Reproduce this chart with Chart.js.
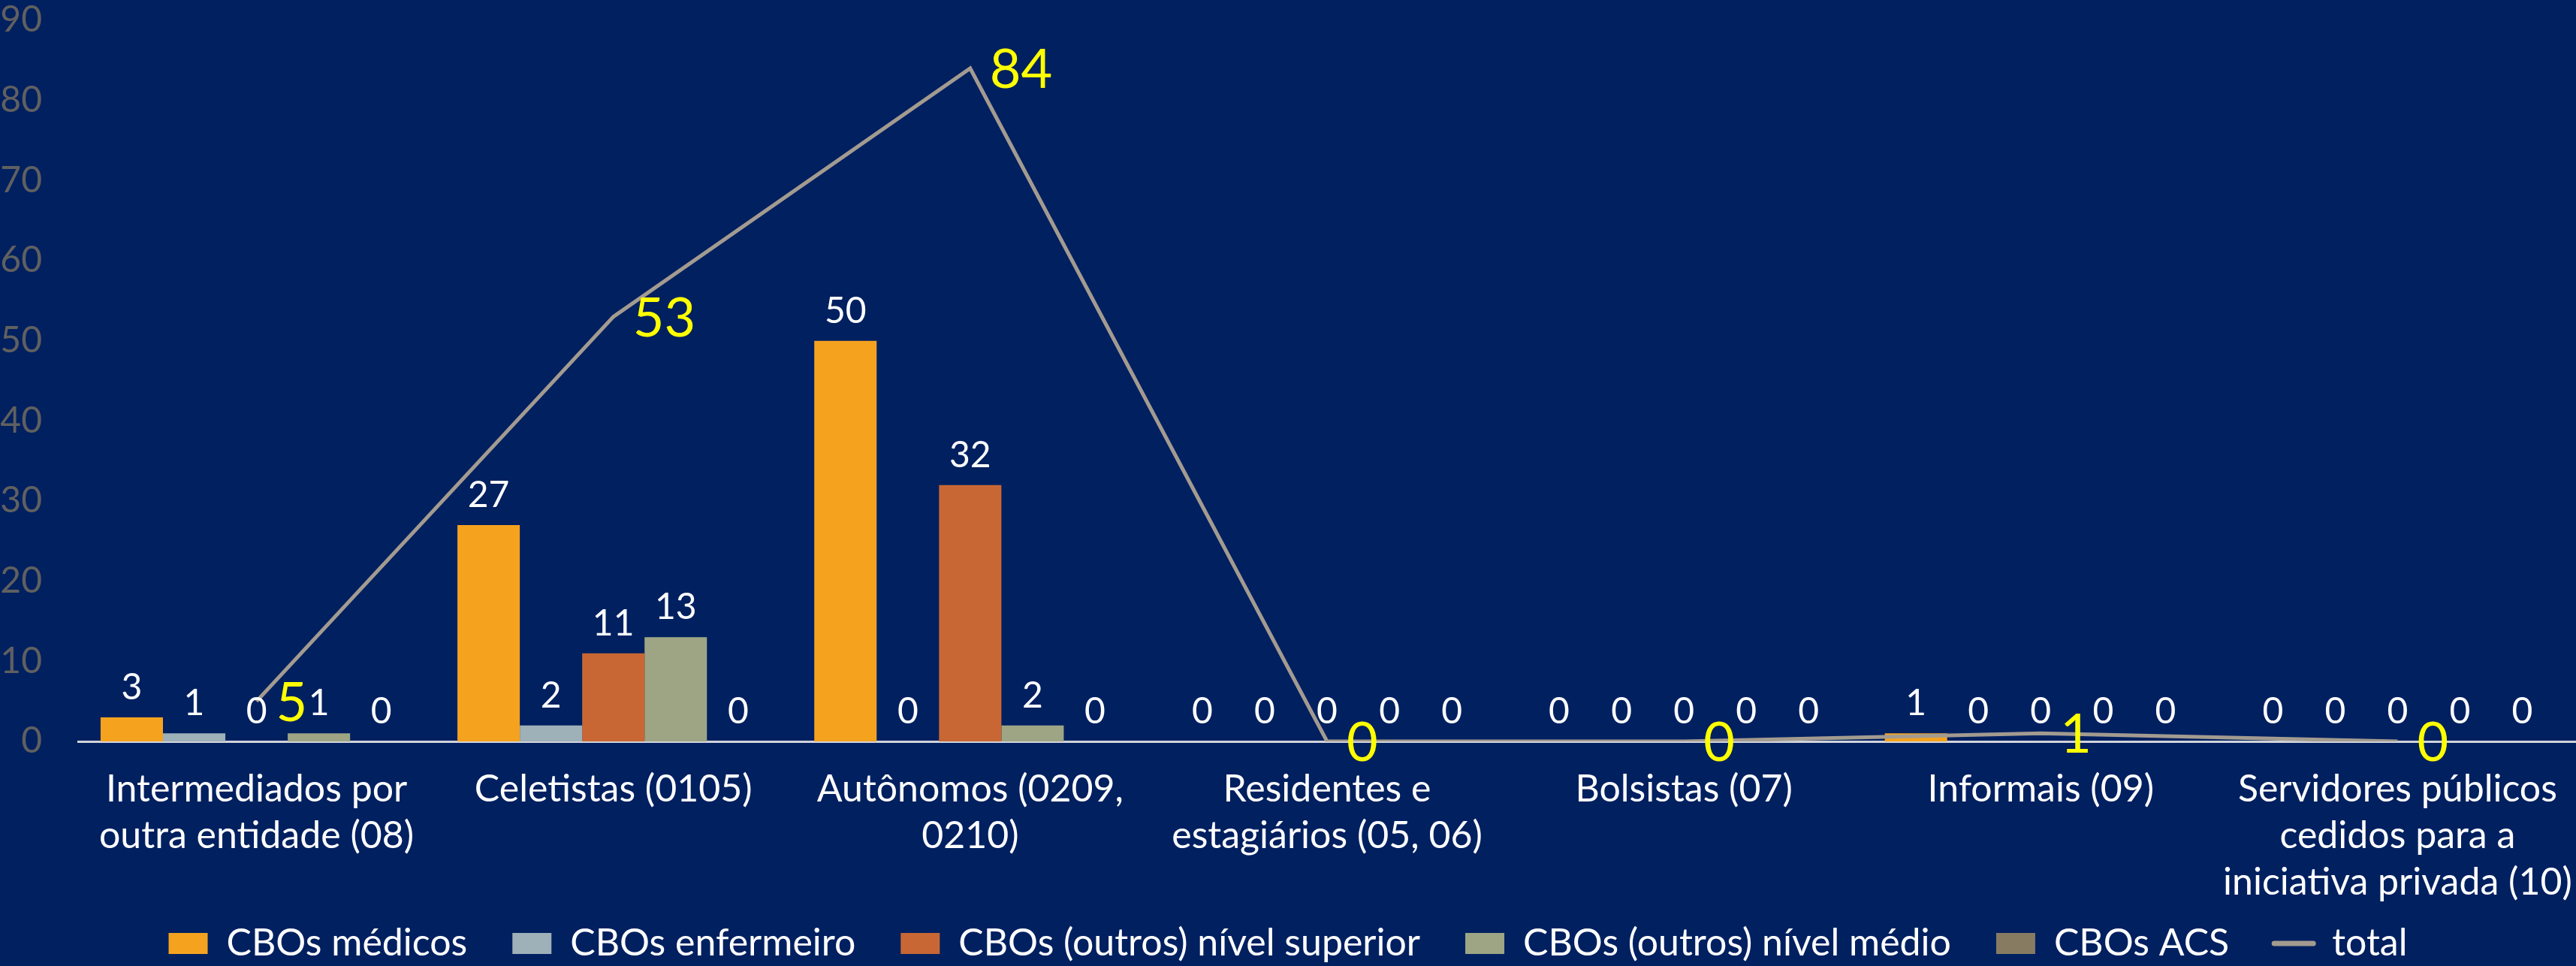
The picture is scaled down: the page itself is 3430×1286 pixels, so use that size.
<!DOCTYPE html>
<html>
<head>
<meta charset="utf-8">
<script src="https://cdn.jsdelivr.net/npm/chart.js@4.4.1/dist/chart.umd.min.js"></script>
<style>
  html, body { margin: 0; padding: 0; background: #002060; overflow: hidden; }
  #wrap { width: 3430px; height: 1286px; position: relative; }
</style>
</head>
<body>
<div id="wrap"><canvas id="c"></canvas></div>
<script>
// ---- data ----
const categories = [
  ["Intermediados por", "outra entidade (08)"],
  "Celetistas (0105)",
  ["Autônomos (0209,", "0210)"],
  ["Residentes e", "estagiários (05, 06)"],
  "Bolsistas (07)",
  "Informais (09)",
  ["Servidores públicos", "cedidos para a", "iniciativa privada (10)"]
];
const seriesNames = ["CBOs médicos", "CBOs enfermeiro", "CBOs (outros) nível superior", "CBOs (outros) nível médio", "CBOs ACS", "total"];
const medicos        = [3, 27, 50, 0, 0, 1, 0];
const enfermeiro     = [1, 2, 0, 0, 0, 0, 0];
const outrosSuperior = [0, 11, 32, 0, 0, 0, 0];
const outrosMedio    = [1, 13, 2, 0, 0, 0, 0];
const acs            = [0, 0, 0, 0, 0, 0, 0];
const total          = [5, 53, 84, 0, 0, 1, 0];
const yMin = 0, yMax = 90, yStep = 10;

const FONT = "Lato";
const LEGEND_H = 115;
const XAXIS_H = 184;
const YAXIS_W = 104;
const PLOT_TOP = 27;

const layoutPlugin = {
  id: 'layoutTweaks',
  beforeLayout(chart) {
    const lg = chart.legend;
    if (lg && !lg._patched) {
      const orig = lg.fit.bind(lg);
      lg.fit = function () { orig(); this.height = LEGEND_H; };
      lg._patched = true;
    }
  }
};

const labelPlugin = {
  id: 'valueLabels',
  afterDatasetsDraw(chart) {
    const ctx = chart.ctx;
    ctx.save();
    chart.data.datasets.forEach((ds, i) => {
      const meta = chart.getDatasetMeta(i);
      if (meta.hidden) return;
      meta.data.forEach((el, j) => {
        const v = ds.data[j];
        if (ds.type === 'line') {
          ctx.font = `72px ${FONT}`;
          ctx.fillStyle = '#FFFF00';
          ctx.textAlign = 'left';
          ctx.textBaseline = 'alphabetic';
          ctx.fillText(String(v), el.x + 26, el.y + 26);
        } else {
          ctx.font = `48px ${FONT}`;
          ctx.fillStyle = '#FFFFFF';
          ctx.textAlign = 'center';
          ctx.textBaseline = 'alphabetic';
          ctx.fillText(String(v), el.x, el.y - 24);
        }
      });
    });
    ctx.restore();
  }
};

const barColors = ['#F5A31F', '#9EB0B8', '#C86734', '#9EA584', '#877B62'];
const barData = [medicos, enfermeiro, outrosSuperior, outrosMedio, acs];

const datasets = barData.map((d, i) => ({
  type: 'bar',
  label: seriesNames[i],
  data: d,
  backgroundColor: barColors[i],
  borderWidth: 0,
  order: 1
}));
datasets.push({
  type: 'line',
  label: seriesNames[5],
  data: total,
  borderColor: '#A39B90',
  backgroundColor: '#A39B90',
  borderWidth: 5,
  pointRadius: 0,
  tension: 0,
  order: 0
});

new Chart(document.getElementById('c'), {
  data: { labels: categories, datasets },
  options: {
    responsive: true,
    maintainAspectRatio: false,
    devicePixelRatio: 1,
    animation: false,
    layout: { padding: 0 },
    datasets: { bar: { categoryPercentage: 0.874, barPercentage: 1.0 } },
    scales: {
      x: {
        grid: { display: false, drawTicks: false },
        border: { display: true, color: '#D0D3DA', width: 3 },
        ticks: {
          color: '#FFFFFF',
          font: { family: FONT, size: 50, lineHeight: 1.24 },
          padding: 33,
          maxRotation: 0,
          autoSkip: false
        },
        afterFit(scale) {
          scale.height = XAXIS_H;
          scale.paddingLeft = 0;
          scale.paddingRight = 0;
          // let the multi-line category labels extend below the axis box
          scale._computeLabelArea = function () { return undefined; };
        }
      },
      y: {
        min: yMin, max: yMax,
        grid: { display: false, drawTicks: false },
        border: { display: false },
        ticks: {
          stepSize: yStep,
          color: '#606060',
          font: { family: FONT, size: 48 },
          padding: 48
        },
        afterFit(scale) {
          scale.width = YAXIS_W;
          scale.paddingTop = PLOT_TOP;
          scale.paddingBottom = 0;
        }
      }
    },
    plugins: {
      tooltip: { enabled: false },
      legend: {
        position: 'bottom',
        labels: {
          color: '#FFFFFF',
          font: { family: FONT, size: 50, lineHeight: 1 },
          usePointStyle: true,
          pointStyleWidth: 52,
          boxHeight: 28,
          padding: 60,
          generateLabels(chart) {
            const items = Chart.defaults.plugins.legend.labels.generateLabels(chart);
            items.forEach(it => {
              const ds = chart.data.datasets[it.datasetIndex];
              if (ds.type === 'line') {
                it.pointStyle = 'line';
                it.lineWidth = 7;
                it.strokeStyle = ds.borderColor;
                it.lineCap = 'round';
              } else {
                it.pointStyle = 'rect';
                it.lineWidth = 0;
                it.fillStyle = ds.backgroundColor;
              }
            });
            items.sort((a, b) => a.datasetIndex - b.datasetIndex);
            return items;
          }
        }
      }
    }
  },
  plugins: [layoutPlugin, labelPlugin]
});
</script>
</body>
</html>
